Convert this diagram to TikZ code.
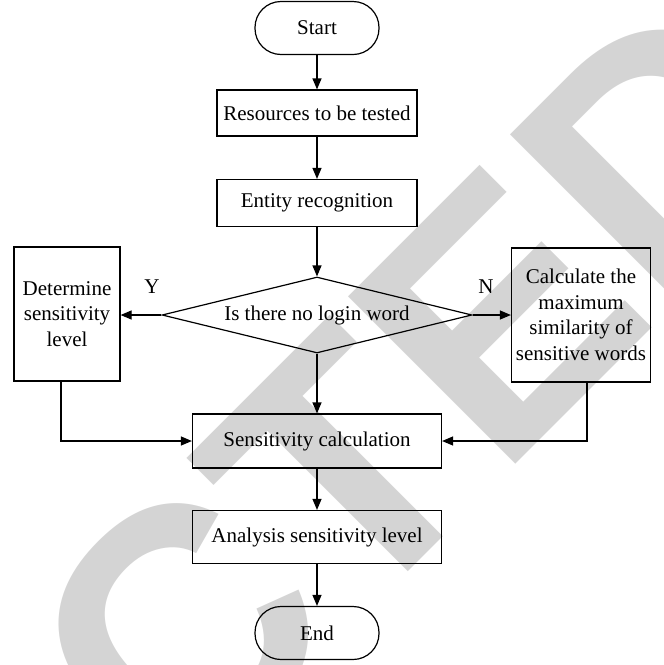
\documentclass[tikz,border=0pt]{standalone}
\usepackage{fontspec}
\setmainfont{Liberation Serif}
\newfontfamily\wmfont{Liberation Sans}
\usetikzlibrary{shapes.geometric,arrows.meta}
\begin{document}
\begin{tikzpicture}[x=0.5pt,y=-0.5pt,
  font=\fontsize{10.5}{12.8}\selectfont,
  box/.style={draw,line width=0.6pt,align=center,inner sep=0pt},
  term/.style={box,rounded corners=13pt,minimum width=62pt,minimum height=26.5pt},
  arr/.style={line width=0.6pt,-{Triangle[length=5.5pt,width=4.5pt]}}]
\useasboundingbox (0,0) rectangle (664,665);
% watermark
\begin{scope}
\clip (0,0) rectangle (664,665);
\node[rotate=45,anchor=base east,inner sep=0pt,text=black!17,
  font=\wmfont\bfseries\fontsize{172}{172}\selectfont] (wm) at (838,142) {RETRACTED};
\end{scope}
% flowchart
\node[term] (start) at (317,28) {Start};
\node[box,minimum width=100pt,minimum height=23pt] (res) at (317,113) {Resources to be tested};
\node[box,minimum width=100pt,minimum height=23.5pt] (ent) at (317,203) {Entity recognition};
\node[diamond,draw,line width=0.6pt,aspect=4,inner sep=0pt,
  minimum width=155pt,minimum height=38pt] (dec) at (317,315) {Is there no login word};
\node[box,minimum width=53pt,minimum height=67pt] (det) at (67,314) {Determine\\sensitivity\\level};
\node[box,minimum width=69.5pt,minimum height=67pt] (calc) at (581,315)
  {Calculate the\\maximum\\similarity of\\sensitive words};
\node[box,minimum width=124.5pt,minimum height=27pt] (sens) at (317,441) {Sensitivity calculation};
\node[box,minimum width=124.5pt,minimum height=26.5pt] (ana) at (317,537) {Analysis sensitivity level};
\node[term] (end) at (317,633) {End};
\node (ylab) at (152,287) {Y};
\node (nlab) at (486,287) {N};
\draw[arr] (start) -- (res);
\draw[arr] (res) -- (ent);
\draw[arr] (ent) -- (dec);
\draw[arr] (dec) -- (sens);
\draw[arr] (sens) -- (ana);
\draw[arr] (ana) -- (end);
\draw[arr] (dec.west) -- (dec.west -| det.east);
\draw[arr] (dec.east) -- (dec.east -| calc.west);
\draw[arr] ([xshift=-3pt]det.south) |- (sens.west);
\draw[arr] ([xshift=3pt]calc.south) |- (sens.east);
\end{tikzpicture}
\end{document}
